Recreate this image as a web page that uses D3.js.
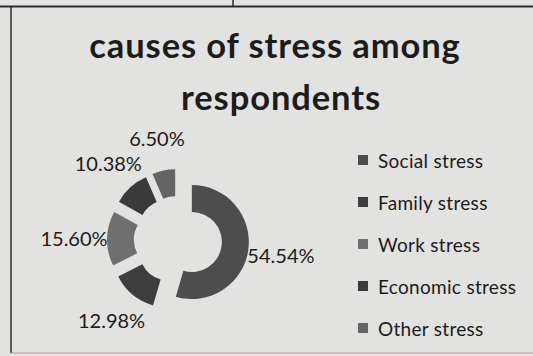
<!DOCTYPE html>
<html>
<head>
<meta charset="utf-8">
<script src="https://cdn.jsdelivr.net/npm/d3@7"></script>
<style>
  html, body { margin: 0; padding: 0; background: #e2e2e0; }
  svg { display: block; }
</style>
</head>
<body>
<svg id="chart" width="533" height="356"></svg>
<script>
// Causes of stress among respondents (shares, %)
const categories = ["Social stress", "Family stress", "Work stress", "Economic stress", "Other stress"];
const shares = [54.54, 12.98, 15.60, 10.38, 6.50];
const sliceColors = ["#4d4d4d", "#3e3e3e", "#6f6f6f", "#3a3a3a", "#646464"];
const titleLines = ["causes of stress among", "respondents"];

const W = 533, H = 356;
const svg = d3.select("#chart");
const ink = "#1c1c1c";
const face = "Lato, 'Open Sans', sans-serif";

// page background and frame
svg.append("rect").attr("width", W).attr("height", H).attr("fill", "#e2e2e0");
const frame = svg.append("g").attr("stroke", "#2a2a2a").attr("fill", "none");
frame.append("line").attr("x1", 0).attr("x2", W).attr("y1", 6.5).attr("y2", 6.5).attr("stroke-width", 2.2);
frame.append("line").attr("x1", 233).attr("x2", 233).attr("y1", 0).attr("y2", 6.5).attr("stroke-width", 1.5);
frame.append("line").attr("x1", 11).attr("x2", 11).attr("y1", 6.5).attr("y2", 353).attr("stroke-width", 1.5);
frame.append("line").attr("x1", 11).attr("x2", W).attr("y1", 353).attr("y2", 353).attr("stroke-width", 1).attr("stroke", "#b89a92");

// title
const title = svg.append("g").attr("font-family", face)
  .attr("font-weight", "bold").attr("font-size", 34.5).attr("letter-spacing", 0.9)
  .attr("fill", ink).attr("text-anchor", "middle");
title.append("text").attr("x", 275).attr("y", 58).text(titleLines[0]);
title.append("text").attr("x", 281).attr("y", 110).text(titleLines[1]);

// exploded doughnut
const cx = 178, cy = 240;
const outerR = 57, innerR = 30, explode = 14;
const pie = d3.pie().sort(null).value(d => d)(shares);
const arc = d3.arc().innerRadius(innerR).outerRadius(outerR);
const mid = d => (d.startAngle + d.endAngle) / 2;

const donut = svg.append("g").attr("transform", `translate(${cx},${cy})`);
donut.selectAll("path").data(pie).join("path")
  .attr("d", arc)
  .attr("fill", (d, i) => sliceColors[i])
  .attr("transform", d => `translate(${explode * Math.sin(mid(d))},${-explode * Math.cos(mid(d))})`);

// percentage labels centred on a ring outside the slices
const labelArc = d3.arc().innerRadius(104).outerRadius(104);
const fmt = v => v.toFixed(2) + "%";
donut.append("g").attr("font-family", face).attr("font-size", 20).attr("fill", ink)
  .selectAll("text").data(pie).join("text")
  .text(d => fmt(d.data))
  .attr("text-anchor", "middle")
  .attr("dominant-baseline", "central")
  .attr("x", d => labelArc.centroid(d)[0])
  .attr("y", d => labelArc.centroid(d)[1]);

// legend
const legendY = d3.scalePoint().domain(categories).range([160, 328]);
const legend = svg.append("g").attr("font-family", face).attr("font-size", 19)
  .attr("letter-spacing", 0.3).attr("fill", ink);
const rows = legend.selectAll("g").data(categories).join("g")
  .attr("transform", d => `translate(358,${legendY(d)})`);
rows.append("rect").attr("x", 0).attr("y", -5).attr("width", 10).attr("height", 10)
  .attr("fill", (d, i) => sliceColors[i]);
rows.append("text").attr("x", 20).attr("y", 0).attr("dominant-baseline", "central").text(d => d);
</script>
</body>
</html>
